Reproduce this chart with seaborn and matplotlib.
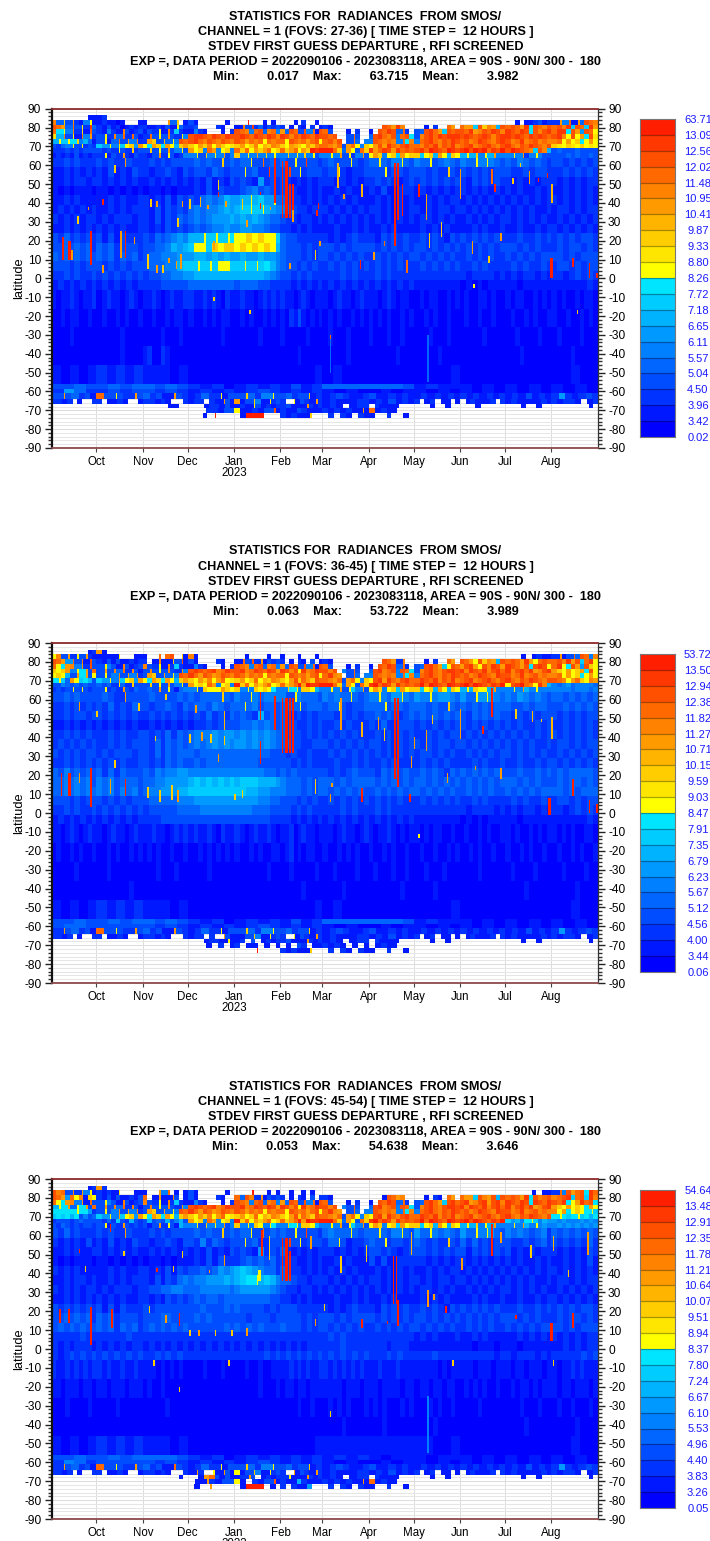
"""SMOS radiance first guess departure stdev, latitude against time, three FOV groups."""
import calendar

import matplotlib
matplotlib.use("Agg")
import matplotlib.pyplot as plt
import numpy as np
import pandas as pd
import seaborn as sns
from matplotlib.colors import BoundaryNorm, ListedColormap

W, H = 710, 1541

MONTHS = ["Oct", "Nov", "Dec", "Jan\n2023", "Feb", "Mar", "Apr", "May", "Jun", "Jul", "Aug"]
MONTH_DAYS = [calendar.monthrange(y, m)[1] for y, m in
              [(2022, 9), (2022, 10), (2022, 11), (2022, 12), (2023, 1), (2023, 2),
               (2023, 3), (2023, 4), (2023, 5), (2023, 6), (2023, 7), (2023, 8)]]

COLOURS = ["#0000ff", "#0018ff", "#0033ff", "#004dff", "#0066ff", "#0080ff", "#0099ff",
           "#00b3ff", "#00ccff", "#00e5ff", "#ffff00", "#ffe600", "#ffcd00", "#ffb400",
           "#ff9b00", "#ff8200", "#ff6900", "#ff5000", "#ff3700", "#ff1e00"]
CODES = "0123456789abcdefghij"

# top latitude of each band, the last band ends at -76.5
BAND_TOPS = [86.5, 84, 81.5, 79, 76.5, 74, 71.5, 69, 66.5,
             64, 59, 54, 49, 44, 39, 34, 29, 24, 19, 14, 9, 4, -1, -6, -16, -26, -36, -46,
             -56, -58.5, -61, -64, -66.5, -69, -71.5, -74]
BAND_BOTTOM = -76.5

# colour bin per band, one group per month Sep..Aug, "." = no data
P1_ROWS = [
    "........11 12........ . . . . . . . . . .",
    "f4c3e215a1 121101...1 1....e4c.1 31......1. ..j...1.1. ...1.2..1. . . . . ..1.112312 2e5g1e4hgf",
    "hge4g3a2i4 2131201212 2112131a42 23....21.. 1f3i241323 2.1.21.2.1 21........ ...hgeif.. ..1.2..ge. gee8hcfe7h ghgei9hgfh ghfi8hg8ie",
    "g9a5f2b1g3 21521f3123 132a1f2821 1521...1.2 hgf5gh4fg5 e4hg3h5g1h g3...1.2.. 1.hgih4g2. 34hige8hgh hgiefhgihf ihgih9hfhi gii9he6hga",
    "b7f3a1f5e2 3a2f4g2g31 2g3a3f32a5 hiihgihgih hihgihgihf ihfhgihgih hgh..3g3.. 4higfh5gh9 3fhigihiii hihghihfhi ihihgihihg hifahae9hb",
    "7a8a9c5741 3a14g3e5f2 2ec3d4a5hg higfhgfhgf hgegfgagfg gahgfgegha ghfh.3g4.5 5hgfgf5g9f 5ghigfhgih ghfgihgfhi hfgifghfgf fgaeac9aea",
    "3245a3a232 86a5b8ac6e a9ec9ea7ce caecfaecab ceacfadcfe caedcaecfg gfeg3ega5c aeheigfhig gfhgifhgif ghifghigfh igfhgihgfh cbacbacaba",
    "2223232333 3232a32c23 3c3a3e35a3 eac5ge5ac5 gcgaecegac gcegaecjij jjgc4ea3gc iegiheighg higjihgjih ijhjijgihj hjihgf8hf7 3433343333",
    "1212131212 2a132e2132 213e2a3125 5a3c5a5e35 c5a5e5c5a5 5c5a5c5a35 5a5e3a25e3 aec5ac8eac c8ac7ea7ca 7a7c5a7e55 5a5e25a533 3334343343",
    "22323222 3232e322 23232333 34343c34 34a3g343 43a3i332 3433a323 4a435a43 54a34543 54a5a543 43543432 33232323",
    "11212121 21312132 21223213 23324323 3a342i33 3i3a2333 23a21223 33a23323 33232c32 32323233 32232332 22323232",
    "11212212 21212121 12121212 12131213 23216232 32121212 22121212 23232123 23232323 21323232 21212122 21212122",
    "10101110 11010101 01101011 12131322 23453432 33211212 11212111 21311222 12121212 21212121 21211212 11212121",
    "11212111 11212112 21213132 32454576 67a786a4 43221212 12121211 12121212 11212122 12121212 12121212 21212121",
    "12121212 11212122 21313232 45455676 78a8a765 54322122 21212121 22121212 21212212 21212121 21212112 12212122",
    "21212122 12122212 21313243 45456667 67676544 32212212 12121212 12121212 12212121 12121212 21212121 12121212",
    "11212121 21212112 21213232 34345565 56655433 22121211 11211212 11212111 12121211 11212112 11211212 21212121",
    "32423232 31313222 32434565 77a8a8a9 aacacaa8 43322222 21212322 21323232 23232132 32323232 22322323 23232332",
    "33434342 43423332 33445767 8aa8cacc acacaca7 43332323 33232333 32323232 33232323 23232323 33232322 23233232",
    "43434343 43424342 34455566 67767676 67667665 43332323 32323232 23232323 32323232 23232322 32323233 33232333",
    "33323233 32323233 34445578 8a8a8aa8 8a8a8975 43323232 23232323 23232322 23232323 22323222 23232232 23323233",
    "22323223 23232323 23344556 67777777 77777654 33232322 22232322 23232222 22222222 21222212 12122121 22123232",
    "12121212 12121212 22233333 44444444 34443322 22121212 12121212 12121212 11111111 01010111 11011111 11111121",
    "1011210112 0121101210 1121012112 2112121021 1211012121 2110121011 1012110121 1101210110 0101100101 0100110100 1011001010 1010010110",
    "0010110010 0100101001 0010010110 1001010110 0101001010 1021310101 0101001010 1010100101 0010100100 0100100100 0100101001 1001001010",
    "0000100000 0000010000 0000100010 0000000100 0000010000 1000001000 0100010000 1000100100 0001000100 0000010000 0010000100 0100001000",
    "0000000000 0000010000 1200210000 0000000000 0000000000 0000100000 0000010000 0000001000 0000010000 0000000000 0001000000 0000100000",
    "10101 21212 11101 00000 00000 00001 01000 00000 00001 00000 00000 00100",
    "3343 3434 4343 2120 1212 1312 4444 4443 1211 1010 1010 1010",
    "2642 2323 3232 1212 1232 1212 1010 0101 1010 1010 1010 1010",
    "3e34231 g3a32e3 4231e32 1242a13 3c425a3 3423c12 1232112 3112121 1212121 2121212 1213121 2621232",
    "2212.1..2 2.1121..1 22121..2 122.21e31 e13c51a23 2.a1321e2 1211122 1213121 2.12.11.1 .121112.2 12111121 21221.12",
    "......... ......... .....11.. ...122131 121a31212 23111e212 121.122 .21111... ...1..1.. ...1..... ...1..1.. .......1.",
    ". . . ...22133 a11213h1 21132111 212121e1 g1211... . . . .",
    ". . . ...1.j.... .1jjj... 21211c.. .2.21.21 1..2..1. . . . . .",
]
P1_LEVELS = [0.02, 3.42, 3.96, 4.50, 5.04, 5.57, 6.11, 6.65, 7.18, 7.72, 8.26,
             8.80, 9.33, 9.87, 10.41, 10.95, 11.48, 12.02, 12.56, 13.09, 63.71]
# day, days wide, top latitude, bottom latitude, colour bin
P1_STREAKS = [
    (154, 1, 62, 32, "j"), (156, 2, 62, 32, "j"), (159, 1, 50, 32, "j"), (161, 1, 50, 32, "j"),
    (149, 1, 64, 40, "j"), (111, 1, 52, 47, "c"),
    (139, 1, 46, 44, "j"), (139, 1, 40, 37, "j"), (111, 1, 46, 43, "j"), (99, 1, 43, 38, "d"),
    (104, 1, 39, 37, "e"), (116, 1, 41, 38, "e"), (178, 1, 40, 37, "j"), (161, 1, 36, 30, "e"),
    (7, 1, 22, 10, "j"), (11, 2, 20, 10, "j"), (13, 1, 15, 10, "e"), (26, 1, 25, 7, "j"),
    (46, 1, 25, 11, "e"), (49, 1, 25, 11, "j"), (34, 1, 42, 39, "j"), (24, 1, 38, 36, "e"),
    (66, 1, 42, 38, "c"), (70, 1, 41, 38, "e"), (87, 1, 41, 38, "e"), (92, 1, 42, 37, "c"),
    (127, 1, 42, 36, "c"), (146, 1, 38, 36, "e"), (64, 1, 13, 5, "c"), (70, 1, 7, 3, "e"),
    (74, 1, 7, 3, "c"), (83, 1, 9, 5, "e"), (78, 1, 11, 8, "e"), (86, 1, 13, 5, "e"),
    (176, 1, 15, 10, "c"), (179, 1, 20, 17, "e"), (159, 1, 8, 5, "e"), (34, 1, 7, 3, "e"),
    (333, 2, 11, 0, "j"), (359, 1, 8, 0, "j"), (364, 1, 3, 0, "j"), (237, 1, 10, 3, "g"),
    (206, 1, 10, 5, "j"), (348, 1, 11, 6, "j"), (282, 1, -3, -5, "a"), (108, 1, -10, -12, "c"),
    (132, 1, -17, -19, "c"), (351, 1, -17, -19, "c"), (186, 1, -30, -32, "g"), (186, 1, -32, -50, "4"),
    (251, 1, -30, -55, "4"), (273, 1, 58, 42, "e"), (229, 1, 61, 17, "j"), (231, 1, 61, 31, "j"),
    (234, 1, 50, 33, "j"), (207, 1, 50, 43, "d"), (245, 1, 50, 43, "j"), (250, 1, 45, 31, "e"),
    (294, 1, 58, 50, "g"), (296, 1, 50, 46, "j"), (334, 1, 50, 40, "d"), (319, 1, 57, 50, "e"),
    (325, 1, 53, 51, "j"), (331, 1, 56, 53, "j"), (191, 1, 61, 48, "d"), (195, 1, 45, 42, "e"),
    (177, 1, 36, 33, "j"), (308, 1, 53, 50, "c"), (313, 1, 61, 59, "c"), (260, 1, 30, 22, "c"),
    (300, 1, 24, 20, "e"), (215, 1, 14, 10, "e"), (222, 1, 20, 17, "g"), (252, 1, 24, 16, "c"),
    (281, 1, 20, 13, "e"), (292, 1, 12, 8, "c"), (42, 1, 60, 56, "c"), (55, 1, 22, 18, "e"),
    (17, 1, 33, 29, "c"), (108, 1, 20, 15, "e"), (84, 1, 32, 27, "c"), (130, 1, 31, 27, "e"),
]

P2_ROWS = [
    "........12 e1........ . . . . . . . . . .",
    "af3e2a3e21 1111a...11 1..g.gh.c1 f1........ ..1....1.. 1...1...1. . . . . ...1.1211 2e13g4hg5f",
    "hge6g3f1h3 2131311212 2.1f11c3h1 31....21.. 1g3h2e1323 2.1.21.3.1 21........ ...hge2f.. ..1.2..ge. hgeahcfe7h ghgeieaghg ghfieh8gia",
    "ga9ef5e2h3 3a531f3123 f32a1f2821 1521...1.2 hgf5gh4fg5 e4hg3h5g1h g3...1.2.. 1.hgih4g2. 34hige8ahg ehieahfihe ihgeh9hiha gia9he6hca",
    "cace5a9e3g 3e3f4g2f31 3f3a3f32e5 hihghifgih hifgihgihe ihfhaifgih hfh.53g3.. 4hifgh5hg9 3fhigfhiih ifihgifhig ifhigiefhi ecaeace9ha",
    "aca73e9e3a 3a35f3e5f2 3ec3e4a5hg igehgefhgf hgegfgagfg gahgfgegha gife.3g4.5 5hgfgf5g9f 5ghigfhgih ghfgihgfih hfgifghfgf fgaeac9aea",
    "9a84ea8973 86a5e8ac6e a9ec9ea7ce caecfaegab ceacgadcfe caehcgechg gfeg3ega5c ahieigfhig gihgifhgif ghifghigfh igfhgihgfh hgfaegcafe",
    "3354343433 4342a42c33 3c3a3e35a3 eacage5ac5 jcgaecegac gcegjejiij jjgc4ea3gc ijgiheighg hjgjihgjih ijhjihgihj ahijgfaif7 5456455554",
    "2323a3a323 3a232e3243 343e3a3145 5a3caaaeca c5a5caca95 5c9a5cca75 5a5e3a85e3 aec5ac8eac c8ac7ea7ca 7a7caa7e55 5a5e75a555 5555455545",
    "33434333 3432e333 34333343 43444c43 54a54555 53a54443 5454a434 5a546a54 65a56654 64a6a654 54654543 44343434",
    "22323232 32423243 32334324 34435434 4a453443 4a4a3444 34a32334 44a34434 44343c43 43434344 43343443 33434343",
    "22323323 32323232 23232323 23242324 34327343 43232323 33232323 34343234 34343434 32434343 32323233 32323233",
    "11212121 21212121 12121212 12232333 34454543 43322323 22323222 32422333 23232323 32323232 32322323 22323232",
    "22323232 22323223 32324243 45556566 56565654 43332323 23232322 23232323 22323233 23232323 23232323 32323232",
    "23232323 22323233 32424343 45456565 66565654 44332233 32323232 33232323 32323323 32323232 32323223 23323233",
    "32323233 23233323 32424344 43444444 44444433 32322322 23232323 23232323 23323232 23232323 32323232 23232323",
    "22323232 32323223 32324343 34344444 44443333 33232322 22322323 22323222 23232322 22323223 22322323 32323232",
    "43534343 42424333 43545566 55555555 55555443 43433333 32323433 32434343 34343243 43434343 33433434 34344443",
    "44545453 54534443 44556666 78787878 78887776 54443434 44343444 43434343 44343434 34343434 44343433 34344343",
    "44545454 54535453 45566677 88888888 88776655 54443434 43434343 34343434 43434343 34343433 43434344 44343444",
    "33323233 32323233 34444455 56666666 66665544 33323232 23232323 23232322 23232323 22323222 23232232 23323233",
    "22323223 23232323 23333344 44555555 55544433 33232322 22232322 23232222 22222222 21222212 12122121 22123232",
    "12121212 12121212 22233333 33333333 33333322 22121212 12121212 12121212 11111111 01010111 11011111 11111121",
    "1101210121 1012110121 1121101212 1211210211 2101211210 1120121101 1101211012 1011210101 1010110010 0100101001 1010010101 1010100110",
    "0100101001 0010100101 0101001001 0010101010 1001010011 0120101100 1001010100 1001010010 0100100101 0010100100 1001010010 0100101001",
    "0000010000 0010000000 0001000100 0000100000 0000000100 0010000010 0010000100 0100010010 0010001000 0000100000 0100001000 0010000100",
    "0000000000 0000000100 0000000000 0000000000 0000000000 0000010000 0000100000 0000000100 0000100000 0000000000 0000100000 0000010000",
    "10101 21212 11101 00000 00000 00001 01000 00000 00001 00000 00000 00100",
    "3343 3434 4343 2120 1212 1312 4444 4443 1211 1010 1010 1010",
    "3443 3333 3232 1212 1232 1212 1010 0101 1010 1010 1010 1010",
    "2e34231 g3a32e3 4231e32 1242a13 3c425a3 3423c12 1232112 3112121 1212121 2121212 1213121 2621232",
    "2212.1..2 2.1121..1 22121..2 122.2.e31 113c51a23 2.a1321e2 1211122 1213121 2.12.11.1 .121112.2 12111121 21221.12",
    "......... ......... ......... ...1221a1 12.3.1212 23111e212 121.122 .21111... ...1..1.. ......... ...1..1.. .......1.",
    ". . . ...1.2.1 2.11.1.1 .1.32.11 2121.1.1 .1211... . . . .",
    ". . . ......... ..j... 21211c.. .2.21.21 1..2..1. . . . . .",
]
P2_LEVELS = [0.06, 3.44, 4.00, 4.56, 5.12, 5.67, 6.23, 6.79, 7.35, 7.91, 8.47,
             9.03, 9.59, 10.15, 10.71, 11.27, 11.82, 12.38, 12.94, 13.50, 53.72]
P2_STREAKS = [
    (154, 1, 61, 32, "j"), (156, 2, 61, 32, "j"), (159, 1, 61, 32, "j"), (161, 1, 61, 32, "j"),
    (229, 1, 61, 18, "j"), (231, 1, 61, 18, "j"), (332, 2, 8, -1, "j"),
    (359, 1, 7, 0, "j"), (364, 1, 5, 0, "j"), (11, 2, 21, 9, "j"), (6, 1, 21, 9, "j"),
    (26, 1, 24, 3, "j"), (49, 1, 18, 9, "j"), (39, 1, 18, 10, "e"), (18, 1, 59, 54, "e"),
    (18, 1, 21, 16, "e"), (30, 1, 54, 51, "c"), (69, 1, 41, 38, "c"), (115, 1, 54, 44, "d"),
    (115, 1, 41, 36, "c"), (111, 1, 31, 27, "e"), (139, 1, 64, 49, "j"), (139, 1, 38, 26, "j"),
    (149, 1, 62, 44, "j"), (193, 1, 61, 44, "e"), (207, 1, 48, 40, "d"), (218, 1, 51, 44, "e"),
    (273, 1, 55, 39, "e"), (294, 1, 66, 51, "j"), (334, 1, 51, 39, "d"), (327, 1, 50, 48, "c"),
    (321, 1, 54, 48, "d"), (348, 1, 18, 9, "j"), (245, 1, -11, -13, "a"), (176, 1, 18, 10, "c"),
    (187, 1, 16, 14, "e"), (207, 1, 13, 6, "j"), (231, 1, 18, 14, "j"), (239, 1, 10, 6, "j"),
    (264, 1, 21, 16, "e"), (283, 1, 25, 23, "e"), (300, 1, 24, 18, "e"), (64, 1, 14, 8, "c"),
    (72, 1, 12, 6, "c"), (80, 1, 15, 7, "c"), (84, 1, 12, 6, "e"), (92, 1, 42, 37, "c"),
    (100, 1, 43, 38, "e"), (106, 1, 42, 37, "c"), (122, 1, 10, 7, "c"), (127, 1, 12, 8, "c"),
    (222, 1, 45, 38, "c"), (242, 1, 40, 34, "e"), (250, 1, 44, 33, "e"), (186, 1, 10, 6, "e"),
    (254, 1, 52, 47, "c"), (240, 1, 30, 24, "e"), (288, 1, 46, 42, "j"), (310, 1, 55, 50, "c"),
    (42, 1, 28, 24, "c"), (58, 1, 58, 54, "c"), (76, 1, 63, 60, "c"), (96, 1, 57, 53, "e"),
]

P3_ROWS = [
    "........12 e2........ . . . . . . . . . .",
    "hfg3f2e5a1 2121b...11 1..e5g.1.1 31......1. ...j...1.1 ..1..1.1.. . . . . .....1.11 2g5hegh9ig",
    "hge6gaf1ca 2131311213 g.1e11f3.1 31....21.. g4hf2e1323 2.1.21.3.2 21........ ...1hgef.. ..1.21.ge. gee8hfeh7h ghgei9hfgh fghi8gh8if",
    "ga9ef5e1g3 3a531f3123 f32a1f2821 1521...1.2 hgf5gh4fg5 e4hg3h5g1h g3...1.2.. 1.hgih4g2. 34hige8hig hiefhiehif ihgih9ihgi hgi9aeigh9",
    "7a9e4a9e3g 3e3f4g2f31 3f3a3f32e5 hihghifgih hifgihgihe ihfhaifgih hfh.53g3.. 4hifgh5hg9 3fhigfhiih ifihgifhig ifhigiefhi ecaeaca9ea",
    "99999a9962 3a35f3e5f2 3ec3e4a5hg igehgefhgf hgegfgagfg gahgfgegha gife.3g4.5 5hgfgf5g9f 5ghigfhgih ghfgihgfih hfgifghfgf fae9aca9a8",
    "8989793534 86a5e8ac6e a9ec9ea7ce caecfaegab ceacgadcfe caehcgechg gfeg3ega5c ahieigfhig gihgifhgif ghifghigfh igfhgihgfh 9a989a8979",
    "2333234333 3242832732 3734373573 eac5ge5ac5 jcgaecegac gcegjejiij jjgc4ea3gc ijgiheighg hjgjihgjih ijhjihgihj 86759a8576 6565556565",
    "3243232332 3a132e3232 313e2a3175 5a3c5a5e35 c5a5ca5a95 5c9a5cca75 5a5e3a85e3 aec5ac8eac c8ac7ea7ca 7a7c5a7e55 5a5e75a565 5656565656",
    "32423222 3232e322 23232333 34343c34 34a3g343 43a3i332 4544a434 4a435a43 64a54543 64a5a643 54543452 43434343",
    "21212131 21312132 21223213 32524323 3a342i33 3i3a2333 24a31223 43a23323 43232c32 42423233 32232342 32323242",
    "11212112 21212121 12121212 12131213 23216232 42121212 22121212 33232123 33232323 31323232 31212122 21212132",
    "10101110 11010101 01101011 12131322 23434342 33211212 11212111 31311222 22121212 21212121 21211212 11212131",
    "21212111 11212112 21213132 33434656 78765442 43221212 12121211 12121212 11212122 12121212 12121212 21212121",
    "11212212 11212122 21313245 45566676 789a7875 44322122 21212121 22121212 21212212 21212121 21212112 12212122",
    "21212122 12122212 23344554 44555554 56666654 32212212 12121212 12121212 12212121 12121212 21212121 12121212",
    "11212121 21212112 21213232 34344344 44444433 22121211 11211212 11212111 12121211 11212112 11211212 21212121",
    "32323232 31313222 32333333 33433343 43333232 33322222 21212322 21323232 23232132 32323232 22322323 23232332",
    "33434342 43423332 33344333 34343333 33233323 33332323 33232333 32323232 33232323 23232323 33232322 23233232",
    "34343433 43424342 34343434 33333343 43434333 43332323 32323232 23232323 32323232 23232322 32323233 33232333",
    "22222322 22222322 22222222 22222222 22222222 22222222 23232222 22222222 12121112 11212111 11212121 21212122",
    "21212221 21212122 12121212 12121212 12121212 12121222 22232222 22212221 11111111 11011101 11011111 11212122",
    "21232323 23232323 22323232 22222222 22222323 23232323 23232323 22232322 22232222 22222212 21222121 22222323",
    "2112121212 2121121121 1110101010 0001000100 0010010011 1121212112 2121212121 1121112111 1111101011 1110111011 1011011101 1011212111",
    "1101110110 1101110111 0100100000 0000000000 0000010001 0110110111 1111011101 1101111011 0110110110 0101010010 0101101011 1011011101",
    "0001000010 0000100000 0000010000 0000000000 0000000000 0000100100 0101010001 0101000101 0001010010 0000100000 0001000100 0100100010",
    "0000000000 0000000000 0000000000 0000000000 0000000000 0000000000 0000100000 0001000000 0000100000 0000000000 0000100000 0000010000",
    "10101 21212 11101 00000 00000 00001 11111 11111 11001 00000 00000 00100",
    "3343 3434 4443 2120 1212 1212 1212 1011 1011 1010 1010 1010",
    "2542 3333 3232 1212 1232 1212 1010 0101 1010 1010 1010 1010",
    "2e34231 g3a32e3 4231g32 1242a13 3c425a3 3423c12 1232112 3112121 1212121 2121212 1213121 2621232",
    "2212.1..2 2.1121..1 22121..2 1e2.a1e31 a13c51a23 2.e1321e2 1211122 1213121 2.12.11.1 .121112.2 12111121 21221.12",
    "......... ......... .......1. ..1eg3131 12e3.1212 2a111e212 121.122 .21111... ...1..1.. ......... ...1..1.. .......1.",
    ". . . .1e2133 a1.213h1 21172111 212121e1 g1211... . . . .",
    ". . . .1.e.... .1jjj.1. 2.2116.. .2.21.21 1..2..1. . . . . .",
]
P3_LEVELS = [0.05, 3.26, 3.83, 4.40, 4.96, 5.53, 6.10, 6.67, 7.24, 7.80, 8.37,
             8.94, 9.51, 10.07, 10.64, 11.21, 11.78, 12.35, 12.91, 13.48, 54.64]
P3_STREAKS = [
    (154, 1, 59, 36, "j"), (156, 2, 59, 36, "j"), (159, 1, 52, 36, "j"), (140, 1, 63, 49, "j"),
    (228, 1, 49, 24, "j"), (230, 1, 49, 24, "j"),
    (231, 1, 26, 12, "j"), (251, 1, 31, 22, "e"), (255, 1, 29, 26, "e"), (263, 1, 23, 19, "j"),
    (333, 2, 14, 4, "j"), (348, 1, 19, 11, "j"), (310, 1, 18, 16, "j"), (11, 1, 21, 14, "j"),
    (5, 1, 21, 14, "j"), (26, 1, 22, 2, "j"), (40, 1, 21, 11, "j"), (18, 1, 53, 51, "j"),
    (70, 1, 43, 41, "j"), (85, 1, 19, 12, "j"), (138, 2, 42, 36, "a"), (207, 1, 16, 11, "j"),
    (294, 1, 66, 49, "j"), (224, 1, 15, 13, "j"), (39, 1, 66, 62, "j"), (173, 1, 60, 53, "e"),
    (145, 1, 60, 47, "c"), (115, 1, 50, 44, "e"), (105, 1, 42, 40, "e"), (81, 1, 44, 41, "c"),
    (87, 1, 52, 48, "c"), (48, 1, 52, 49, "c"), (22, 1, 44, 41, "c"), (65, 1, 23, 19, "c"),
    (76, 1, 18, 14, "e"), (92, 1, 10, 7, "c"), (109, 1, 10, 7, "c"), (120, 1, 10, 7, "c"),
    (130, 1, 11, 7, "e"), (193, 1, 49, 40, "c"), (210, 1, 55, 46, "c"), (240, 1, 62, 50, "d"),
    (274, 1, 48, 42, "e"), (300, 1, 62, 56, "e"), (320, 1, 55, 48, "c"), (335, 1, 60, 52, "d"),
    (358, 1, 62, 50, "e"), (85, 1, -20, -23, "c"), (68, 1, -6, -9, "c"), (118, 1, -6, -9, "c"),
    (268, 1, -6, -9, "c"), (335, 1, -6, -9, "c"), (186, 1, -33, -36, "c"), (251, 1, -25, -55, "5"),
    (182, 1, 24, 20, "c"), (176, 1, 16, 12, "e"), (98, 1, 10, 7, "e"), (345, 1, 42, 38, "c"),
]

TITLE_LINES = ["STATISTICS FOR  RADIANCES  FROM SMOS/",
               "CHANNEL = 1 (FOVS: {fovs}) [ TIME STEP =  12 HOURS ]",
               "STDEV FIRST GUESS DEPARTURE , RFI SCREENED",
               "EXP =, DATA PERIOD = 2022090106 - 2023083118, AREA = 90S - 90N/ 300 -  180",
               "Min:        {lo}    Max:        {hi}    Mean:        {mean}"]

P1_STATS = {"fovs": "27-36", "lo": "0.017", "hi": "63.715", "mean": "3.982"}
P2_STATS = {"fovs": "36-45", "lo": "0.063", "hi": "53.722", "mean": "3.989"}
P3_STATS = {"fovs": "45-54", "lo": "0.053", "hi": "54.638", "mean": "3.646"}

# pixel layout per panel: first title line, axes top/bottom, colour bar top/bottom
LAYOUT = [(15, 108.7, 448, 119, 437), (550, 643, 983, 654, 972), (1085, 1179, 1519, 1190, 1508)]

plt.rcParams["font.family"] = ["Liberation Sans", "DejaVu Sans"]
plt.rcParams["axes.unicode_minus"] = False


def build_grid(rows, streaks, levels):
    mids = (np.array(levels[:-1]) + np.array(levels[1:])) / 2
    mids[-1] = levels[-2] + 1  # top bin runs to the max, keep it just inside
    n_days = sum(MONTH_DAYS)
    grid = np.full((360, n_days), np.nan)

    def value(ch):
        return np.nan if ch == "." else mids[CODES.index(ch)]

    def is_quiet(ch):
        return ch == "." or CODES.index(ch) < 10

    tops = BAND_TOPS + [BAND_BOTTOM]
    for b, row in enumerate(rows):
        i0 = int((90 - tops[b]) * 2)
        i1 = int((90 - tops[b + 1]) * 2)
        start = 0
        for group, nd in zip(row.split(), MONTH_DAYS):
            for d in range(nd):
                pos = d * len(group) / nd
                k = int(pos)
                ch = group[k]
                # a lone peak between quiet cells is one time step wide, not a whole cell
                if not is_quiet(ch) and k > 0 and k < len(group) - 1 \
                        and is_quiet(group[k - 1]) and is_quiet(group[k + 1]) \
                        and int((d + 1) * len(group) / nd) == k:
                    ch = group[k - 1]
                grid[i0:i1, start + d] = value(ch)
            start += nd

    for day, wide, top, bottom, ch in streaks:
        i0 = int((90 - top) * 2)
        i1 = int((90 - bottom) * 2)
        block = grid[i0:i1, day:day + wide]
        block[~np.isnan(block)] = value(ch)
    return pd.DataFrame(grid)


def draw_panel(fig, rows, streaks, levels, stats, layout, with_label=True):
    y_title, top, bottom, bar_top, bar_bottom = layout
    for k, line in enumerate(TITLE_LINES):
        fig.text(365.5 / W, 1 - (y_title + 1.5 + 15.2 * k) / H, line.format(**stats), ha="center",
                 va="center", fontsize=9.05, fontweight="bold", color="black")

    ax = fig.add_axes([51.6 / W, 1 - bottom / H, (597.6 - 51.6) / W, (bottom - top) / H])
    cmap = ListedColormap(COLOURS)
    norm = BoundaryNorm(levels, cmap.N)
    sns.heatmap(build_grid(rows, streaks, levels), ax=ax, cmap=cmap, norm=norm, cbar=False,
                xticklabels=False, yticklabels=False)

    month_ticks = np.cumsum(MONTH_DAYS)[:-1]
    ax.set_xticks(month_ticks)
    ax.set_xticklabels(MONTHS, fontsize=8.3, linespacing=0.95)
    lats = np.arange(90, -91, -10)
    ax.set_yticks((90 - lats) * 2)
    ax.set_yticklabels([str(v) for v in lats], rotation=0, fontsize=8.6)
    ax.set_yticks((90 - np.arange(90, -91, -2)) * 2, minor=True)
    ax.tick_params(axis="y", which="major", left=True, right=True, labelleft=True, labelright=True,
                   length=5, width=1.0, color="#222222", pad=2.5)
    ax.tick_params(axis="y", which="minor", left=True, right=True, length=3, width=1.0, color="#333333")
    ax.tick_params(axis="x", length=3, width=0.8, color="#444444", pad=2.5)

    ax.set_axisbelow(True)
    ax.grid(True, axis="x", color="#dcdcdc", lw=0.7)
    ax.grid(True, axis="y", which="minor", color="#e6e6e6", lw=0.7)
    ax.grid(True, axis="y", which="major", color="#dcdcdc", lw=0.7)
    for name, colour, lw in [("top", "#8c2a2a", 1.3), ("bottom", "#8c4a4a", 1.3),
                             ("left", "#111111", 1.6), ("right", "#333333", 0.9)]:
        ax.spines[name].set_visible(True)
        ax.spines[name].set_color(colour)
        ax.spines[name].set_linewidth(lw)
    if with_label:
        fig.text(19 / W, 1 - (top + 0.5 * (bottom - top)) / H, "latitude", rotation=90,
                 ha="center", va="center", fontsize=9.3)

    cax = fig.add_axes([640 / W, 1 - bar_bottom / H, 35 / W, (bar_bottom - bar_top) / H])
    bins = np.arange(19, -1, -1).reshape(-1, 1)
    sns.heatmap(bins, ax=cax, cmap=cmap, vmin=-0.5, vmax=19.5, cbar=False,
                xticklabels=False, yticklabels=False)
    cax.hlines(np.arange(1, 20), 0, 1, color="black", alpha=0.35, lw=0.9)
    cax.yaxis.tick_right()
    cax.set_yticks(np.arange(21))
    cax.set_yticklabels([f"{v:.2f}" for v in levels[::-1]], rotation=0, fontsize=8.0,
                        color="#1a1aff", ha="center")
    cax.tick_params(axis="y", length=0, pad=16.5)
    for spine in cax.spines.values():
        spine.set_visible(True)
        spine.set_color("#777777")
        spine.set_linewidth(0.8)


fig = plt.figure(figsize=(W / 100, H / 100), dpi=100)
draw_panel(fig, P1_ROWS, P1_STREAKS, P1_LEVELS, P1_STATS, LAYOUT[0])
draw_panel(fig, P2_ROWS, P2_STREAKS, P2_LEVELS, P2_STATS, LAYOUT[1])
draw_panel(fig, P3_ROWS, P3_STREAKS, P3_LEVELS, P3_STATS, LAYOUT[2])
fig.savefig("out.png", dpi=100)
